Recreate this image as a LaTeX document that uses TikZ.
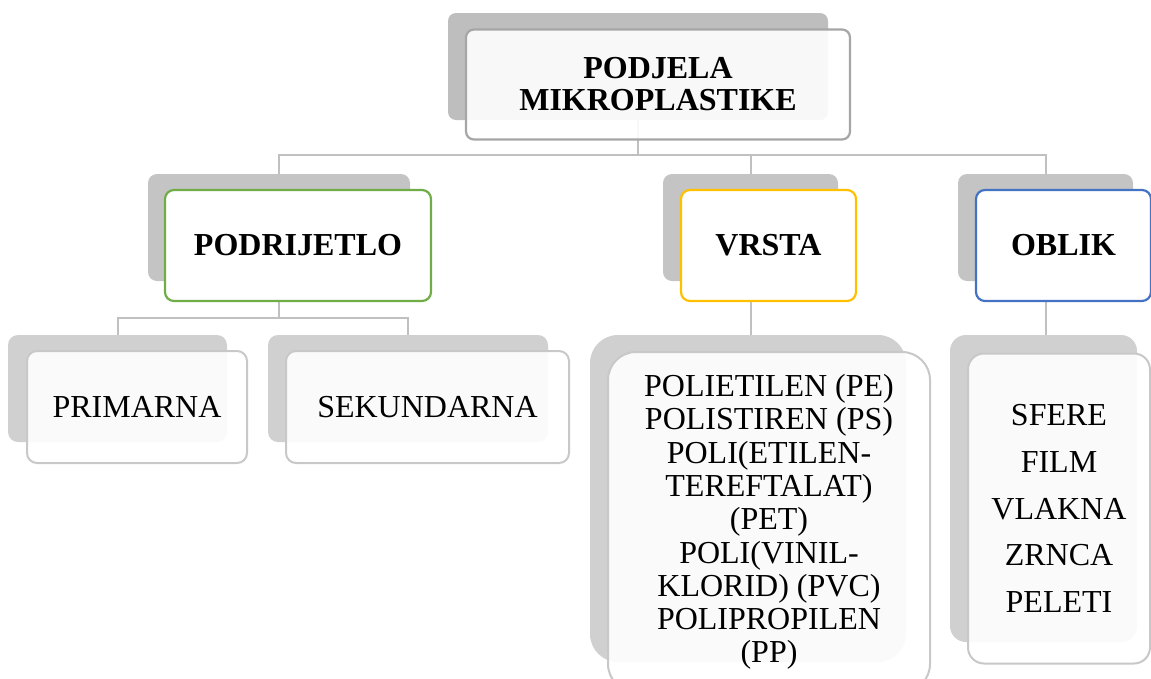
\documentclass[tikz,border=0pt]{standalone}
\usepackage{fontspec}
\setmainfont{Liberation Serif}
\definecolor{shA}{HTML}{BEBEBE}
\definecolor{shB}{HTML}{C4C4C4}
\definecolor{shC}{HTML}{D0D0D0}
\definecolor{bdA}{HTML}{A6A6A6}
\definecolor{bdC}{HTML}{C8C8C8}
\definecolor{cn}{HTML}{C0C0C0}
\definecolor{gr}{HTML}{70AD47}
\definecolor{ye}{HTML}{FFC000}
\definecolor{bl}{HTML}{4472C4}
\begin{document}
\begin{tikzpicture}[x=1pt,y=-1pt,
  box/.style={inner sep=0pt,outer sep=0pt,rectangle,align=center},
  shd/.style={box,draw=none},
  frontA/.style={box,draw=bdA,line width=2.2pt,fill=white,fill opacity=0.9,text opacity=1,rounded corners=8pt,font=\fontsize{32}{32}\selectfont\bfseries},
  frontB/.style={box,line width=2.2pt,fill=white,rounded corners=9pt,font=\fontsize{32}{32}\selectfont\bfseries},
  frontC/.style={box,draw=bdC,line width=2pt,fill=white,fill opacity=0.9,text opacity=1,rounded corners=10pt,font=\fontsize{32}{32}\selectfont},
  conn/.style={draw=cn,line width=2pt}]
\useasboundingbox (0,0) rectangle (1151,678);
% shadows
\node[shd,fill=shA,rounded corners=8pt,minimum width=380,minimum height=107] (tops) at (638,66.5) {};
\node[shd,fill=shB,rounded corners=9pt,minimum width=262,minimum height=107] (pods) at (279,227.5) {};
\node[shd,fill=shB,rounded corners=9pt,minimum width=175,minimum height=107] (vrss) at (750.5,227.5) {};
\node[shd,fill=shB,rounded corners=9pt,minimum width=175,minimum height=107] (obls) at (1045.5,227.5) {};
\node[shd,fill=shC,rounded corners=10pt,minimum width=219,minimum height=107] (prims) at (117.5,388.5) {};
\node[shd,fill=shC,rounded corners=10pt,minimum width=280,minimum height=107] (seks) at (408,388.5) {};
\node[shd,fill=shC,rounded corners=28pt,minimum width=316,minimum height=327] (lists) at (748,498.5) {};
\node[shd,fill=shC,rounded corners=16pt,minimum width=187,minimum height=307] (oblls) at (1043.5,488.5) {};
% connectors
\draw[conn] (tops.south) -- ++(0,35) -| (pods.north);
\draw[conn] (tops.south) -- ++(0,35) -| (vrss.north);
\draw[conn] (tops.south) -- ++(0,35) -| (obls.north);
\draw[conn] (pods.south) -- ++(0,37) -| (prims.north);
\draw[conn] (pods.south) -- ++(0,37) -| (seks.north);
\draw[conn] (vrss.south) -- (vrss.south |- lists.north);
\draw[conn] (obls.south) -- (obls.south |- oblls.north);
% fronts
\node[frontA,minimum width=384,minimum height=110] (top) at (658,84.5) {PODJELA\\MIKROPLASTIKE};
\node[frontB,draw=gr,minimum width=266,minimum height=111] (pod) at (298,245.5) {PODRIJETLO};
\node[frontB,draw=ye,minimum width=175,minimum height=111] (vrs) at (768.5,245.5) {VRSTA};
\node[frontB,draw=bl,minimum width=175,minimum height=111] (obl) at (1063.5,245.5) {OBLIK};
\node[frontC,minimum width=220,minimum height=112] (prim) at (137,407) {PRIMARNA};
\node[frontC,minimum width=283,minimum height=112] (sek) at (427.5,407) {SEKUNDARNA};
\node[frontC,rounded corners=28pt,minimum width=322,minimum height=340,font=\fontsize{32}{33.3}\selectfont] (list) at (769,522) {POLIETILEN (PE)\\POLISTIREN (PS)\\POLI(ETILEN-\\TEREFTALAT)\\(PET)\\POLI(VINIL-\\KLORID) (PVC)\\POLIPROPILEN\\(PP)};
\node[frontC,rounded corners=16pt,minimum width=182,minimum height=310,font=\fontsize{32}{46.7}\selectfont] (obll) at (1059,508.5) {SFERE\\FILM\\VLAKNA\\ZRNCA\\PELETI};
\end{tikzpicture}
\end{document}
